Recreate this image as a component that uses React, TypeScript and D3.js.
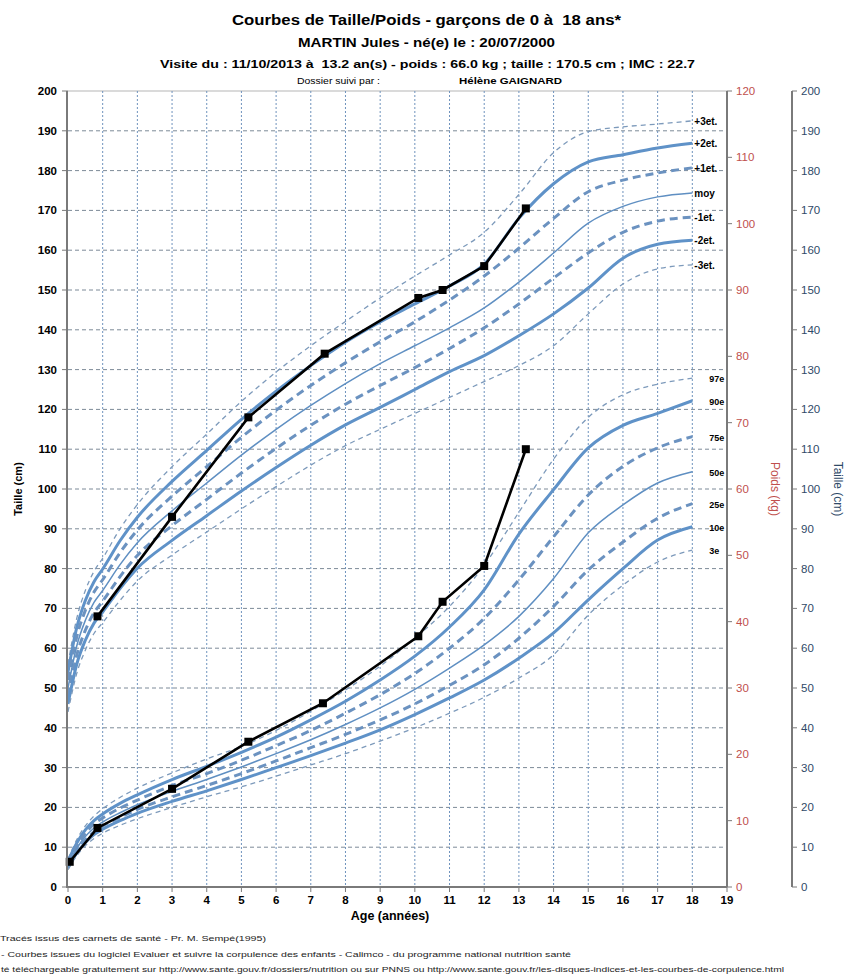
import React from "react";
import * as d3 from "d3";

// ---------- DATA ----------
const ages = [0, 0.25, 0.5, 0.75, 1, 1.5, 2, 3, 4, 5, 6, 7, 8, 9, 10, 11, 12, 13, 14, 15, 16, 17, 18];

// Height reference curves (cm)
const hP3 = [56, 67.4, 74.5, 79.3, 82.6, 90, 96.1, 105.6, 113.8, 122, 129.4, 136, 142.1, 148, 153.5, 158.8, 164.5, 174, 184.5, 189.8, 191, 191.7, 192.5];
const hP2 = [54, 65.1, 72, 76.7, 79.9, 87, 92.9, 101.9, 109.7, 117.5, 124.6, 131, 136.9, 142, 146.5, 151, 156.5, 168, 176.7, 182.2, 184, 185.7, 186.9];
const hP1 = [52, 62.8, 69.5, 74.1, 77.2, 84, 89.7, 98.2, 105.6, 113, 119.8, 126, 131.7, 137, 142, 147.5, 153.5, 160.5, 168, 174.7, 177.6, 179.4, 180.7];
const hM0 = [50, 60.5, 67, 71.5, 74.5, 81, 86.5, 94.5, 101.5, 108.5, 115, 121, 126.5, 131.5, 136, 140.5, 145.5, 152, 159.3, 166.8, 171, 173.4, 174.4];
const hM1 = [48, 58.2, 64.5, 68.9, 71.8, 78, 83.3, 90.8, 97.4, 104, 110.2, 116, 121.3, 126, 130.5, 135.3, 140.5, 146.5, 153, 159.3, 164.5, 167.3, 168.3];
const hM2 = [46, 55.9, 62, 66.3, 69.1, 75, 80.1, 87.1, 93.3, 99.5, 105.4, 111, 116.1, 120.5, 125, 129.5, 133.5, 138.5, 144, 150.5, 158, 161.5, 162.5];
const hM3 = [44, 53.6, 59.5, 63.7, 66.4, 72, 76.9, 83.4, 89.2, 95, 100.6, 106, 110.9, 115, 119, 123, 127, 131, 136, 144, 151.5, 155.3, 156.3];
const heightLabels = ["+3et.", "+2et.", "+1et.", "moy", "-1et.", "-2et.", "-3et."];

// Weight reference curves (kg)
const w97 = [4.2, 7.1, 9.2, 10.7, 11.8, 13.5, 14.9, 17.2, 19.3, 21.2, 23.6, 26.5, 29.7, 33.3, 37.5, 42.3, 48.5, 56.5, 64.5, 70.8, 74.2, 75.8, 76.7];
const w90 = [3.9, 6.6, 8.6, 10, 11, 12.6, 13.9, 16.2, 18.2, 20.3, 22.6, 25.2, 28, 31.2, 34.8, 39.2, 44.8, 53.2, 59.9, 66.2, 69.6, 71.4, 73.3];
const w75 = [3.7, 6.2, 8.1, 9.5, 10.4, 11.9, 13.1, 15.3, 17.1, 19.1, 21.3, 23.6, 26.2, 29, 32.2, 36, 40.5, 46.3, 52.8, 59.1, 63.4, 66.2, 67.9];
const w50 = [3.4, 5.8, 7.6, 8.9, 9.8, 11.2, 12.4, 14.4, 16.2, 18.1, 20.1, 22.2, 24.5, 27, 29.8, 33, 36.5, 40.8, 46.5, 53.4, 57.6, 60.9, 62.6];
const w25 = [3.1, 5.4, 7.1, 8.3, 9.2, 10.5, 11.7, 13.6, 15.3, 17.1, 19, 21, 23, 25.2, 27.6, 30.4, 33.5, 37.5, 42.3, 47.8, 52, 55.6, 57.8];
const w10 = [2.9, 5.1, 6.7, 7.9, 8.7, 10, 11.1, 12.9, 14.5, 16.2, 18, 19.8, 21.7, 23.7, 26, 28.5, 31.2, 34.5, 38.3, 43.3, 48, 52.3, 54.3];
const w3 = [2.6, 4.7, 6.2, 7.3, 8.1, 9.3, 10.3, 12, 13.6, 15.1, 16.7, 18.4, 20.1, 22, 24, 26.2, 28.6, 31.5, 35, 41, 45.5, 49, 50.8];
const weightLabels = ["97e", "90e", "75e", "50e", "25e", "10e", "3e"];

// Patient measures
const patientHeightAges = [0.85, 3.0, 5.2, 7.4, 10.1, 10.8, 12.0, 13.2];
const patientHeights = [68, 93, 118, 134, 148, 150, 156, 170.5];
const patientWeightAges = [0.05, 0.85, 3.0, 5.2, 7.35, 10.1, 10.8, 12.0, 13.2];
const patientWeights = [3.8, 8.9, 14.8, 21.9, 27.7, 37.8, 43, 48.4, 66.0];

const xTicks = d3.range(0, 20);
const leftTicks = d3.range(0, 201, 10);
const kgTicks = d3.range(0, 121, 10);

const titleLines = [
  "Courbes de Taille/Poids - garçons de 0 à  18 ans*",
  "MARTIN Jules - né(e) le : 20/07/2000",
  "Visite du : 11/10/2013 à  13.2 an(s) - poids : 66.0 kg ; taille : 170.5 cm ; IMC : 22.7",
];
const followLabel = "Dossier suivi par :";
const followName = "Hélène GAIGNARD";
const footnotes = [
  "Tracés issus des carnets de santé - Pr. M. Sempé(1995)",
  "- Courbes issues du logiciel Evaluer et suivre la corpulence des enfants - Calimco - du programme national nutrition santé",
  "té téléchargeable gratuitement sur http://www.sante.gouv.fr/dossiers/nutrition ou sur PNNS ou http://www.sante.gouv.fr/les-disques-indices-et-les-courbes-de-corpulence.html",
];

// ---------- STYLES ----------
const FONT = "'Liberation Sans', Arial, sans-serif";
const styleDashThin = { stroke: "#7d9abb", strokeWidth: 1.3, strokeDasharray: "5,4" };
const styleSolidThick = { stroke: "#5f92c8", strokeWidth: 3 };
const styleDashThick = { stroke: "#6b92c0", strokeWidth: 3, strokeDasharray: "8,5" };
const styleThin = { stroke: "#5f8fc2", strokeWidth: 1.5 };
const curveStyles = [styleDashThin, styleSolidThick, styleDashThick, styleThin, styleDashThick, styleSolidThick, styleDashThin];

export default function App() {
  const W = 845, H = 974;
  const x = d3.scaleLinear().domain([0, 19]).range([68, 727]);
  const yL = d3.scaleLinear().domain([0, 200]).range([887, 91]);
  const yR = d3.scaleLinear().domain([0, 120]).range([887, 91]);

  const heightSeries = [hP3, hP2, hP1, hM0, hM1, hM2, hM3];
  const weightSeries = [w97, w90, w75, w50, w25, w10, w3];

  const lineL = d3.line<number>().x((_, i) => x(ages[i])).y((d) => yL(d)).curve(d3.curveMonotoneX);
  const lineR = d3.line<number>().x((_, i) => x(ages[i])).y((d) => yR(d)).curve(d3.curveMonotoneX);

  const pH = d3.line<number>().x((_, i) => x(patientHeightAges[i])).y((d) => yL(d));
  const pW = d3.line<number>().x((_, i) => x(patientWeightAges[i])).y((d) => yR(d));

  const x0 = x(0), x19 = x(19), yTop = yL(200), yBot = yL(0);
  const blueAxisX = 792;
  const pre = { whiteSpace: "pre" as const };

  return (
    <svg width={W} height={H} style={{ position: "absolute", left: 0, top: 0, background: "#fff" }} fontFamily={FONT}>
      <defs>
        <clipPath id="plotclip">
          <rect x={x0} y={yTop - 2} width={x19 - x0 - 2} height={yBot - yTop + 2} />
        </clipPath>
        <clipPath id="wlclip"><rect x={690} y={300} width={35} height={300} /></clipPath>
      </defs>
      <rect x={0} y={0} width={W} height={H} fill="#fff" />

      {/* Titles */}
      <text x={232} y={25} fontSize={14.5} fontWeight="bold" textLength={389} lengthAdjust="spacingAndGlyphs" style={pre}>{titleLines[0]}</text>
      <text x={298} y={47} fontSize={12} fontWeight="bold" textLength={257} lengthAdjust="spacingAndGlyphs" style={pre}>{titleLines[1]}</text>
      <text x={160} y={68} fontSize={11} fontWeight="bold" textLength={535} lengthAdjust="spacingAndGlyphs" style={pre}>{titleLines[2]}</text>
      <text x={297} y={84} fontSize={9.5} textLength={83} lengthAdjust="spacingAndGlyphs">{followLabel}</text>
      <text x={459} y={84} fontSize={9.5} fontWeight="bold" textLength={103} lengthAdjust="spacingAndGlyphs">{followName}</text>

      {/* Grid */}
      {leftTicks.filter((t) => t > 0 && t < 200).map((t) => (
        <line key={"hg" + t} x1={x0} x2={x19} y1={yL(t)} y2={yL(t)} stroke="#7d8a98" strokeWidth={1} strokeDasharray="4,3" />
      ))}
      <line x1={x0} x2={x19} y1={yTop} y2={yTop} stroke="#b5b5b5" strokeWidth={1.2} />
      {xTicks.filter((t) => t > 0 && t < 19).map((t) => (
        <line key={"vg" + t} x1={x(t)} x2={x(t)} y1={yTop} y2={yBot} stroke="#6f93bd" strokeWidth={1} strokeDasharray="2,2" />
      ))}

      {/* Reference curves */}
      <g clipPath="url(#plotclip)" fill="none">
        {heightSeries.map((s, i) => (
          <path key={"h" + i} d={lineL(s) || ""} {...curveStyles[i]} />
        ))}
        {weightSeries.map((s, i) => (
          <path key={"w" + i} d={lineR(s) || ""} {...curveStyles[i]} />
        ))}
      </g>

      {/* Curve labels */}
      {heightSeries.map((s, i) => (
        <text key={"hl" + i} x={x(18) + 2} y={yL(s[s.length - 1]) + 4} fontSize={10} fontWeight="bold">{heightLabels[i]}</text>
      ))}
      <g clipPath="url(#wlclip)">
        {weightSeries.map((s, i) => (
          <text key={"wl" + i} x={x(18) + 17} y={yR(s[s.length - 1]) + 4} fontSize={9} fontWeight="bold">{weightLabels[i]}</text>
        ))}
      </g>

      {/* Patient */}
      <path d={pH(patientHeights) || ""} fill="none" stroke="#000" strokeWidth={2.6} />
      <path d={pW(patientWeights) || ""} fill="none" stroke="#000" strokeWidth={2.6} />
      {patientHeights.map((v, i) => (
        <rect key={"ph" + i} x={x(patientHeightAges[i]) - 4} y={yL(v) - 4} width={8} height={8} fill="#000" />
      ))}
      {patientWeights.map((v, i) => (
        <rect key={"pw" + i} x={x(patientWeightAges[i]) - 4} y={yR(v) - 4} width={8} height={8} fill="#000" />
      ))}

      {/* Left axis */}
      <line x1={x0 - 1} x2={x0 - 1} y1={yTop} y2={yBot + 1} stroke="#7a7a7a" strokeWidth={2} />
      {leftTicks.map((t) => (
        <g key={"lt" + t}>
          <line x1={x0 - 6} x2={x0} y1={yL(t)} y2={yL(t)} stroke="#7a7a7a" strokeWidth={1} />
          <text x={57} y={yL(t) + 4} textAnchor="end" fontSize={11.5} fontWeight="bold">{t}</text>
        </g>
      ))}
      <text transform={`translate(22,${(yTop + yBot) / 2}) rotate(-90)`} textAnchor="middle" fontSize={11} fontWeight="bold">Taille (cm)</text>

      {/* Bottom axis */}
      <line x1={x0 - 2} x2={x19} y1={yBot} y2={yBot} stroke="#7a7a7a" strokeWidth={2} />
      {xTicks.map((t) => (
        <g key={"bt" + t}>
          <line x1={x(t)} x2={x(t)} y1={yBot} y2={yBot + 5} stroke="#7a7a7a" strokeWidth={1} />
          <text x={x(t)} y={yBot + 17} textAnchor="middle" fontSize={11.5} fontWeight="bold">{t}</text>
        </g>
      ))}
      <text x={390} y={920} textAnchor="middle" fontSize={12.5} fontWeight="bold">Age (années)</text>

      {/* Right red axis (Poids) */}
      <line x1={x19} x2={x19} y1={yTop} y2={yBot} stroke="#7a7a7a" strokeWidth={2} />
      {kgTicks.map((t) => (
        <g key={"rt" + t}>
          <line x1={x19} x2={x19 + 5} y1={yR(t)} y2={yR(t)} stroke="#7a7a7a" strokeWidth={1} />
          <text x={x19 + 9} y={yR(t) + 4} fontSize={11.5} fill="#c0504d">{t}</text>
        </g>
      ))}
      <text transform={`translate(771,${(yTop + yBot) / 2}) rotate(90)`} textAnchor="middle" fontSize={12} fill="#c0504d">Poids (kg)</text>

      {/* Right blue axis (Taille) */}
      <line x1={blueAxisX} x2={blueAxisX} y1={yTop} y2={yBot} stroke="#7a7a7a" strokeWidth={2} />
      {leftTicks.map((t) => (
        <g key={"bt2" + t}>
          <line x1={blueAxisX} x2={blueAxisX + 5} y1={yL(t)} y2={yL(t)} stroke="#7a7a7a" strokeWidth={1} />
          <text x={blueAxisX + 9} y={yL(t) + 4} fontSize={11.5} fill="#2f4a68">{t}</text>
        </g>
      ))}
      <text transform={`translate(834,${(yTop + yBot) / 2}) rotate(90)`} textAnchor="middle" fontSize={12} fill="#2f4a68">Taille (cm)</text>

      {/* Footnotes */}
      <text x={0} y={941} fontSize={8} fill="#222" textLength={266} lengthAdjust="spacingAndGlyphs">{footnotes[0]}</text>
      <text x={1} y={957} fontSize={8} fill="#222" textLength={570} lengthAdjust="spacingAndGlyphs">{footnotes[1]}</text>
      <text x={1} y={972} fontSize={8} fill="#222" textLength={783} lengthAdjust="spacingAndGlyphs">{footnotes[2]}</text>
    </svg>
  );
}
